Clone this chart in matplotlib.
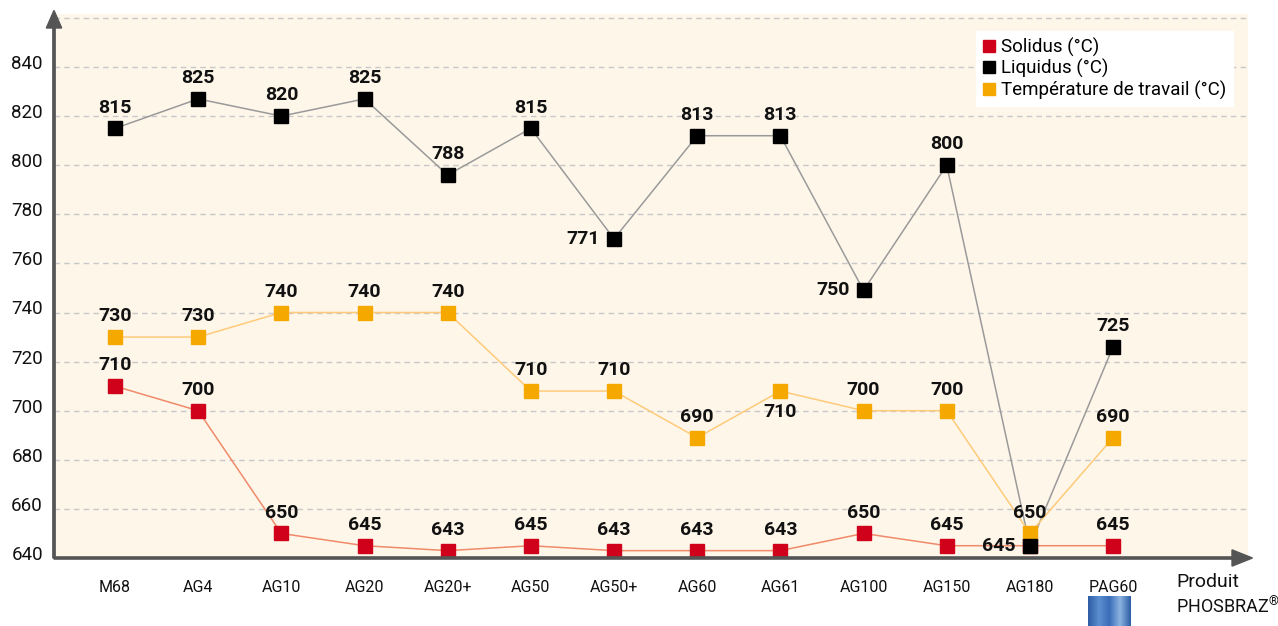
import matplotlib
matplotlib.use("Agg")
import matplotlib.pyplot as plt
from matplotlib.patches import FancyArrow
from matplotlib.colors import LinearSegmentedColormap
import matplotlib.transforms as mtransforms
import numpy as np

plt.rcParams['font.family'] = ['Roboto', 'DejaVu Sans']
plt.rcParams['mathtext.fontset'] = 'custom'
plt.rcParams['mathtext.rm'] = 'Roboto'
plt.rcParams['mathtext.it'] = 'Roboto'

categories = ["M68", "AG4", "AG10", "AG20", "AG20+", "AG50", "AG50+", "AG60",
              "AG61", "AG100", "AG150", "AG180", "PAG60"]
solidus = [710, 700, 650, 645, 643, 645, 643, 643, 643, 650, 645, 645, 645]
liquidus = [815, 827, 820, 827, 796, 815, 770, 812, 812, 749, 800, 645, 726]
travail = [730, 730, 740, 740, 740, 708, 708, 689, 708, 700, 700, 650, 689]
solidus_labels = ["710", "700", "650", "645", "643", "645", "643", "643", "643", "650", "645", "645", "645"]
liquidus_labels = ["815", "825", "820", "825", "788", "815", "771", "813", "813", "750", "800", "", "725"]
travail_labels = ["730", "730", "740", "740", "740", "710", "710", "690", "710", "700", "700", "650", "690"]
yticks = [640, 660, 680, 700, 720, 740, 760, 780, 800, 820, 840]

W, H = 1278, 626
fig = plt.figure(figsize=(W / 100, H / 100), dpi=100)
fig.patch.set_facecolor("white")

left_px, right_px, top_px, bottom_px = 54, 1248, 14, 558
ax = fig.add_axes([left_px / W, 1 - bottom_px / H, (right_px - left_px) / W, (bottom_px - top_px) / H])
ax.set_facecolor("#FEF6E9")

x = np.arange(len(categories))
step = 83.17
ax.set_xlim((left_px - 115) / step, (right_px - 115) / step)
ax.set_ylim(640, 640 + (bottom_px - top_px) / 2.455)

ax.set_yticks(yticks)
ax.set_yticklabels([str(v) for v in yticks], fontsize=13.5, color="#111111")
ax.set_xticks(x)
ax.set_xticklabels(categories, fontsize=11.5, color="#111111")
ax.tick_params(axis="both", length=0)
ax.tick_params(axis="x", pad=16)
ax.tick_params(axis="y", pad=8)
shift = mtransforms.ScaledTranslation(0, 5 / 100, fig.dpi_scale_trans)
for lbl in ax.get_yticklabels():
    lbl.set_transform(lbl.get_transform() + shift)

for v in yticks[1:] + [860]:
    ax.axhline(v, color="#C8C8C8", lw=1, ls=(0, (4, 3)), zorder=1)

for s in ["top", "right", "left", "bottom"]:
    ax.spines[s].set_visible(False)

red = "#D0021B"
black = "#000000"
orange = "#F5A800"

ax.plot(x, liquidus, color="#9A9A9A", lw=1.1, zorder=2)
ax.plot(x, travail, color="#FFCB7A", lw=1.1, zorder=2)
ax.plot(x, solidus, color="#F08A6A", lw=1.1, zorder=2)
ms = 9.5
ax.plot(x, liquidus, ls="none", marker="s", ms=ms, color=black, zorder=4)
ax.plot(x, solidus, ls="none", marker="s", ms=ms, color=red, zorder=3)
ax.plot(x, travail, ls="none", marker="s", ms=ms, color=orange, zorder=3)

lab_kw = dict(fontsize=14, fontweight="bold", color="#111111", ha="center", va="center", zorder=6)


def put(i, val, text, pos):
    if not text:
        return
    if pos == "above":
        ax.annotate(text, (x[i], val), xytext=(0, 15), textcoords="offset points", **lab_kw)
    elif pos == "below":
        ax.annotate(text, (x[i], val), xytext=(0, -15), textcoords="offset points", **lab_kw)
    elif pos == "left":
        kw = dict(lab_kw); kw["ha"] = "right"
        ax.annotate(text, (x[i], val), xytext=(-10, 0), textcoords="offset points", **kw)


for i in range(len(x)):
    put(i, liquidus[i], liquidus_labels[i], "left" if i in (6, 9) else "above")
    put(i, travail[i], travail_labels[i], "below" if i == 8 else "above")
    put(i, solidus[i], solidus_labels[i], "left" if i == 11 else "above")

# axis arrows
fig.patches.append(FancyArrow(left_px / W, 1 - bottom_px / H, 0, (bottom_px - 28) / H,
                              width=0.0018, head_width=0.012, head_length=0.028,
                              length_includes_head=False, transform=fig.transFigure,
                              color="#555555", figure=fig))
fig.patches.append(FancyArrow(left_px / W, 1 - bottom_px / H, (1232 - left_px) / W, 0,
                              width=0.0035, head_width=0.026, head_length=0.016,
                              length_includes_head=False, transform=fig.transFigure,
                              color="#555555", figure=fig))

# legend
leg = ax.legend(
    [plt.Line2D([], [], ls="none", marker="s", color=c, ms=8) for c in (red, black, orange)],
    ["Solidus (°C)", "Liquidus (°C)", "Température de travail (°C)"],
    loc="upper left", bbox_to_anchor=((976 - left_px) / (right_px - left_px), 1 - (31 - top_px) / (bottom_px - top_px)),
    frameon=True, fancybox=False, framealpha=1, edgecolor="white", facecolor="white",
    fontsize=13.5, handlelength=0.7, handletextpad=0.3, labelspacing=0.12, borderpad=0.35,
    borderaxespad=0)
leg.set_zorder(10)

fig.text(1176 / W, 1 - 582 / H, "Produit", fontsize=14, color="#111111", va="center", ha="left")
fig.text(1176 / W, 1 - 607 / H, "PHOSBRAZ$^{®}$", fontsize=13, color="#111111", va="center", ha="left")

# small logo
logo_ax = fig.add_axes([1088 / W, 0, 43 / W, 30 / H])
logo_cmap = LinearSegmentedColormap.from_list("logo", ["#2E5DA6", "#5B8FD0", "#3A6CB8", "#8CB4E2", "#2F5FA8"])
logo_ax.imshow(np.tile(np.linspace(0, 1, 43), (30, 1)), cmap=logo_cmap, aspect="auto")
logo_ax.set_axis_off()

fig.savefig("out.png", dpi=100)
